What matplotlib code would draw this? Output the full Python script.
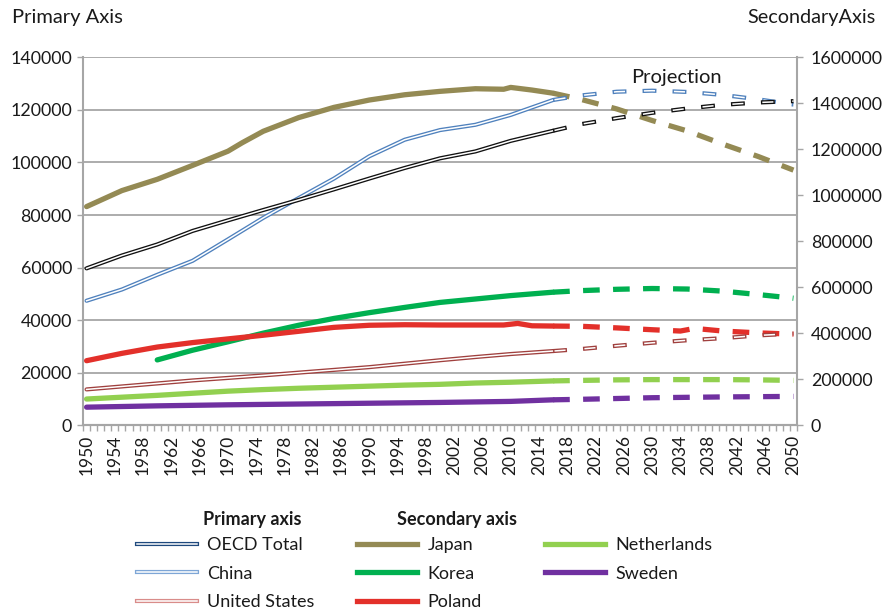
import matplotlib
matplotlib.use("Agg")
import matplotlib.pyplot as plt
from matplotlib.lines import Line2D
from matplotlib.legend_handler import HandlerTuple

plt.rcParams['font.family'] = ['Lato', 'DejaVu Sans']
plt.rcParams['lines.scale_dashes'] = False

# years for the observed part and for the projection
hist_years = [1950, 1955, 1960, 1965, 1970, 1975, 1980, 1985, 1990, 1995,
              2000, 2005, 2010, 2016]
proj_years = [2016, 2020, 2025, 2030, 2035, 2040, 2045, 2050]

# series read on the 0..1.6M scale (thousands)
oecd_hist = [682000, 738000, 786000, 845000, 891000, 936000, 980000, 1026000,
             1073000, 1119000, 1161000, 1191000, 1237000, 1281000]
oecd_proj = [1281000, 1310000, 1336000, 1359000, 1378000, 1394000, 1404000, 1410000]
china_hist = [541000, 590000, 654000, 715000, 808000, 902000, 988000, 1073000,
              1170000, 1242000, 1284000, 1307000, 1350000, 1415000]
china_proj = [1415000, 1435000, 1451000, 1455500, 1450000, 1437000, 1418000, 1395000]
us_hist = [155000, 168000, 181000, 194000, 205000, 216000, 228000, 240000,
           252000, 267000, 282000, 296000, 309000, 322000]
us_proj = [322000, 331000, 345000, 358000, 369000, 378000, 390000, 398000]

# series read on the 0..140k scale (thousands)
japan_years = [1950, 1955, 1960, 1965, 1970, 1972, 1975, 1980, 1985, 1990,
               1995, 2000, 2005, 2009, 2010, 2013, 2016]
japan_hist = [83200, 89300, 93600, 98900, 104300, 107500, 111900, 117100,
              121000, 123800, 125800, 127100, 128100, 127900, 128600, 127600, 126400]
japan_proj = [126400, 124000, 120400, 116000, 112000, 107000, 102300, 97100]

korea_years = [1960, 1965, 1970, 1975, 1980, 1985, 1990, 1995, 2000, 2005, 2010, 2016]
korea_hist = [24800, 28500, 31700, 35000, 38000, 40600, 42800, 44800, 46700,
              48000, 49300, 50600]
korea_proj = [50600, 51200, 51700, 52000, 51800, 51000, 49700, 48300]

poland_years = [1950, 1955, 1960, 1965, 1970, 1975, 1980, 1985, 1990, 1995,
                2000, 2005, 2009, 2011, 2013, 2016]
poland_hist = [24500, 27300, 29700, 31400, 32800, 34200, 35700, 37200, 38000,
               38200, 38100, 38100, 38100, 38700, 37800, 37700]
poland_proj_years = [2016, 2020, 2025, 2030, 2034, 2036, 2040, 2045, 2050]
poland_proj = [37700, 37600, 37000, 36300, 35800, 36800, 35800, 35100, 34600]

neth_hist = [9900, 10600, 11300, 12100, 12900, 13500, 14000, 14400, 14800,
             15200, 15500, 16000, 16300, 16800]
neth_proj = [16800, 17000, 17200, 17300, 17300, 17300, 17200, 17000]
sweden_hist = [6800, 7050, 7300, 7500, 7700, 7850, 8000, 8150, 8300, 8450,
               8600, 8800, 9000, 9600]
sweden_proj = [9600, 9800, 10100, 10400, 10550, 10700, 10800, 10900]

primary_ticks = list(range(0, 140001, 20000))
secondary_ticks = list(range(0, 1600001, 200000))
year_labels = list(range(1950, 2051, 4))

GRAY = '#A6A6A6'
TEXT = '#1A1A1A'
DASH_THICK = (0, (12, 9.6))
DASH_OUTER = (0, (10, 11.6))
DASH_INNER = (20.6, (8, 13.6))


def double_line(ax, x, y, color, dashed=False):
    if dashed:
        ax.plot(x, y, color=color, lw=3.0, linestyle=DASH_OUTER)
        ax.plot(x, y, color='white', lw=1.1, linestyle=DASH_INNER)
    else:
        ax.plot(x, y, color=color, lw=3.0, solid_capstyle='round')
        ax.plot(x, y, color='white', lw=1.1)


def thick_line(ax, x, y, xp, yp, color):
    ax.plot(x, y, color=color, lw=3.8, solid_capstyle='round')
    ax.plot(xp, yp, color=color, lw=3.8, linestyle=DASH_THICK)


fig = plt.figure(figsize=(8.9, 6.09), dpi=100)
ax = fig.add_axes([0.0933, 0.3021, 0.8022, 0.6035])
ax2 = ax.twinx()

thick_line(ax, japan_years, japan_hist, proj_years, japan_proj, '#948A54')
thick_line(ax, korea_years, korea_hist, proj_years, korea_proj, '#00B050')
thick_line(ax, poland_years, poland_hist, poland_proj_years, poland_proj, '#E3302A')
thick_line(ax, hist_years, neth_hist, proj_years, neth_proj, '#92D050')
thick_line(ax, hist_years, sweden_hist, proj_years, sweden_proj, '#7030A0')

double_line(ax2, hist_years, us_hist, '#A0403E')
double_line(ax2, proj_years, us_proj, '#A0403E', dashed=True)
double_line(ax2, hist_years, china_hist, '#4F81BD')
double_line(ax2, proj_years, china_proj, '#4F81BD', dashed=True)
double_line(ax2, hist_years, oecd_hist, '#111111')
double_line(ax2, proj_years, oecd_proj, '#111111', dashed=True)

# categories sit between the year tick marks
ax.set_xlim(1949.5, 2050.5)
ax.set_ylim(0, 140000)
ax2.set_ylim(0, 1600000)

ax.set_yticks(primary_ticks)
ax.set_yticklabels([str(v) for v in primary_ticks])
ax2.set_yticks(secondary_ticks)
ax2.set_yticklabels([str(v) for v in secondary_ticks])
ax.set_xticks(year_labels)
ax.set_xticklabels([str(y) for y in year_labels], rotation=90)
ax.set_xticks([y - 0.5 for y in range(1950, 2052)], minor=True)

ax.grid(axis='y', color=GRAY, lw=1.3)
ax.set_axisbelow(True)

for a in (ax, ax2):
    a.spines['top'].set_visible(False)
    for s in ('left', 'right', 'bottom'):
        a.spines[s].set_color(GRAY)
        a.spines[s].set_linewidth(1.5)
    a.tick_params(axis='both', which='both', colors=GRAY, labelcolor=TEXT,
                  labelsize=12.9, length=4, width=1)
ax.spines['right'].set_visible(False)
ax2.spines['left'].set_visible(False)
ax.tick_params(axis='x', which='major', length=0, pad=7, labelsize=12.5)
ax.tick_params(axis='y', pad=4)
ax2.tick_params(axis='y', pad=6)

ax.text(2033.5, 132500, 'Projection', fontsize=14.5, ha='center', va='center',
        color=TEXT)

fig.text(12 / 890, 1 - 18 / 609, 'Primary Axis', fontsize=14.5, ha='left',
         va='center', color=TEXT)
fig.text(876 / 890, 1 - 18 / 609, 'SecondaryAxis', fontsize=14.3, ha='right',
         va='center', color=TEXT)


# legend handles
def dbl(color):
    return (Line2D([], [], color=color, lw=3.0), Line2D([], [], color='white', lw=1.1))


def thk(color):
    return Line2D([], [], color=color, lw=3.8)


legend_cols = [
    ([dbl('#1F497D'), dbl('#7EA6D6'), dbl('#D98C8A')],
     ['OECD Total', 'China', 'United States'], 137),
    ([thk('#948A54'), thk('#00B050'), thk('#E3302A')],
     ['Japan', 'Korea', 'Poland'], 357),
    ([thk('#92D050'), thk('#7030A0')],
     ['Netherlands', 'Sweden'], 545),
]
for handles, labels, xpix in legend_cols:
    leg = fig.legend(handles, labels, loc='upper left',
                     bbox_to_anchor=(xpix / 890, 1 - 537 / 609),
                     frameon=False, fontsize=13, handlelength=3.3,
                     handletextpad=0.6, labelspacing=0.7, borderpad=0,
                     borderaxespad=0,
                     handler_map={tuple: HandlerTuple(ndivide=1)})
    for t in leg.get_texts():
        t.set_color(TEXT)

fig.text(203 / 890, 1 - 520 / 609, 'Primary axis', fontsize=13, fontweight='bold',
         ha='left', va='center', color=TEXT)
fig.text(397 / 890, 1 - 520 / 609, 'Secondary axis', fontsize=13, fontweight='bold',
         ha='left', va='center', color=TEXT)

fig.savefig('out.png', dpi=100)
